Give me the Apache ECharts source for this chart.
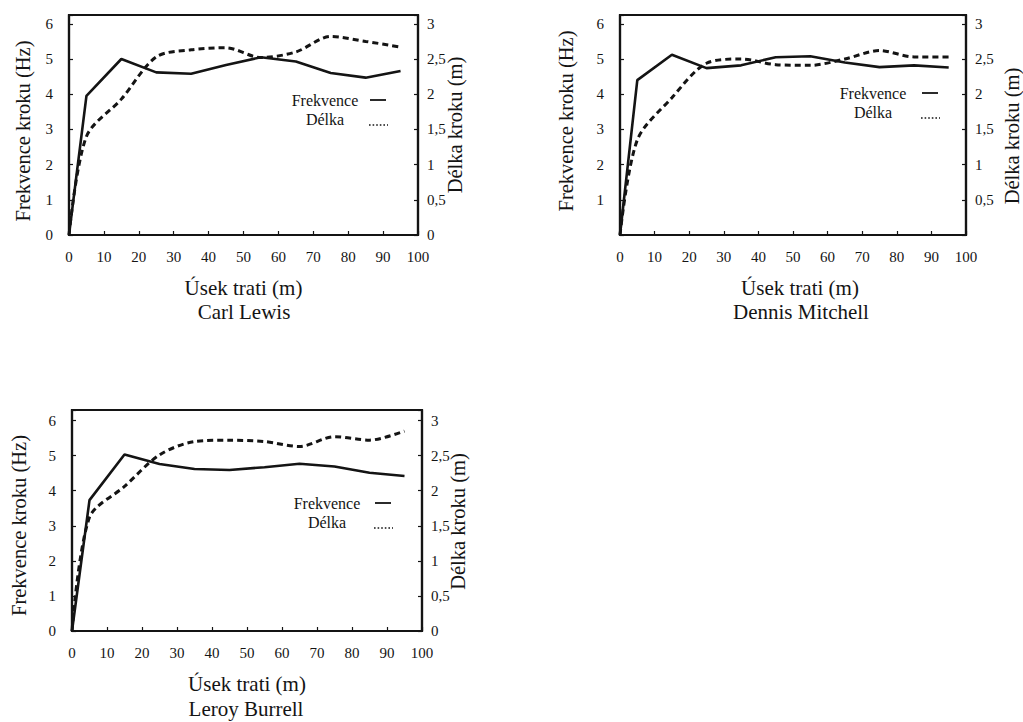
<!DOCTYPE html>
<html>
<head>
<meta charset="utf-8">
<title>Frekvence a délka kroku</title>
<script src="https://cdn.jsdelivr.net/npm/echarts@6/dist/echarts.min.js"></script>
<style>
  html, body { margin: 0; padding: 0; background: #fff; }
  #chart { width: 1023px; height: 722px; }
</style>
</head>
<body>
<div id="chart"></div>
<script>
// Distance along the track (segment midpoints, m)
const trackPos = [0, 5, 15, 25, 35, 45, 55, 65, 75, 85, 95];

// Step frequency (Hz) and step length (m) per runner
const lewisFreq     = [0, 3.95, 5.0, 4.62, 4.58, 4.83, 5.05, 4.93, 4.6, 4.47, 4.66];
const lewisLength   = [0, 1.4, 1.93, 2.53, 2.63, 2.66, 2.52, 2.6, 2.82, 2.75, 2.67];
const mitchellFreq  = [0, 4.4, 5.12, 4.74, 4.82, 5.05, 5.08, 4.9, 4.77, 4.82, 4.76];
const mitchellLength= [0, 1.35, 1.95, 2.44, 2.5, 2.42, 2.41, 2.5, 2.62, 2.53, 2.53];
const burrellFreq   = [0, 3.73, 5.03, 4.76, 4.62, 4.59, 4.67, 4.77, 4.69, 4.51, 4.42];
const burrellLength = [0, 1.62, 2.06, 2.51, 2.7, 2.72, 2.7, 2.63, 2.77, 2.72, 2.85];

const runners = ['Carl Lewis', 'Dennis Mitchell', 'Leroy Burrell'];
const xTitle = 'Úsek trati (m)';
const leftTitle = 'Frekvence kroku (Hz)';
const rightTitle = 'Délka kroku (m)';
const legendNames = ['Frekvence', 'Délka'];

const FONT = "'Liberation Serif', 'DejaVu Serif', serif";
const INK = '#141414';

const pairs = (vals) => trackPos.map((x, i) => [x, vals[i]]);

// Panel layout: plot box, y extent, label options
const panels = [
  { freq: lewisFreq, len: lewisLength, grid: { left: 69, top: 15, width: 349, height: 220 },
    yMax: 6.25, showZero: true, lName: [36, 12], rName: [26, 0], title: [244, 312],
    legend: [325, 378], legendY: 100 },
  { freq: mitchellFreq, len: mitchellLength, grid: { left: 620, top: 15, width: 346, height: 220 },
    yMax: 6.25, showZero: false, lName: [44, -8], rName: [35, 22], title: [801, 312],
    legend: [873, 930], legendY: 93 },
  { freq: burrellFreq, len: burrellLength, grid: { left: 72, top: 410, width: 350, height: 221 },
    yMax: 6.3, showZero: true, lName: [43, 10], rName: [25, 2], title: [246, 709],
    legend: [327, 383], legendY: 503 }
];

const grids = [], xAxes = [], yAxes = [], series = [], graphics = [];

panels.forEach((p, i) => {
  grids.push(Object.assign({ show: true, borderColor: INK, borderWidth: 2.2, backgroundColor: '#fff' }, p.grid));

  xAxes.push({
    gridIndex: i, type: 'value', min: 0, max: 100, interval: 10,
    axisLine: { show: true, onZero: false, lineStyle: { color: INK, width: 2.2 } },
    axisTick: { inside: true, length: 4, lineStyle: { color: INK, width: 1.2 } },
    axisLabel: { margin: 14, fontFamily: FONT, fontSize: 15, color: INK },
    splitLine: { show: false },
    name: xTitle, nameLocation: 'middle', nameGap: 42, nameMoveOverlap: false,
    nameTextStyle: { fontFamily: FONT, fontSize: 21, color: INK, padding: i === 1 ? [0, 0, 0, 14] : 0 }
  });

  yAxes.push({
    gridIndex: i, type: 'value', position: 'left', min: 0, max: p.yMax, interval: 1,
    axisLine: { show: true, lineStyle: { color: INK, width: 2.2 } },
    axisTick: { inside: true, length: 4, lineStyle: { color: INK, width: 1.2 } },
    axisLabel: {
      margin: 16, fontFamily: FONT, fontSize: 15, color: INK,
      formatter: (v) => (v > 6.01 || (!p.showZero && v === 0)) ? '' : String(v)
    },
    splitLine: { show: false },
    name: leftTitle, nameLocation: 'middle', nameRotate: 90, nameGap: p.lName[0], nameMoveOverlap: false,
    nameTextStyle: { fontFamily: FONT, fontSize: 20.5, color: INK,
      padding: p.lName[1] >= 0 ? [0, p.lName[1], 0, 0] : [0, 0, 0, -p.lName[1]] }
  });

  yAxes.push({
    gridIndex: i, type: 'value', position: 'right', min: 0, max: p.yMax / 2, interval: 0.5,
    axisLine: { show: true, lineStyle: { color: INK, width: 2.2 } },
    axisTick: { inside: true, length: 4, lineStyle: { color: INK, width: 1.2 } },
    axisLabel: {
      margin: 9, fontFamily: FONT, fontSize: 15, color: INK,
      formatter: (v) => (v > 3.01 || (!p.showZero && v === 0)) ? '' : String(v).replace('.', ',')
    },
    splitLine: { show: false },
    name: rightTitle, nameLocation: 'middle', nameRotate: 90, nameGap: p.rName[0], nameMoveOverlap: false,
    nameTextStyle: { fontFamily: FONT, fontSize: 20.5, color: INK,
      padding: p.rName[1] >= 0 ? [0, p.rName[1], 0, 0] : [0, 0, 0, -p.rName[1]] }
  });

  series.push({
    name: legendNames[0], type: 'line', xAxisIndex: i, yAxisIndex: 2 * i,
    data: pairs(p.freq), symbol: 'none', smooth: false, z: 3,
    lineStyle: { color: INK, width: 2.6 }
  });
  series.push({
    name: legendNames[1], type: 'line', xAxisIndex: i, yAxisIndex: 2 * i + 1,
    data: pairs(p.len), symbol: 'none', smooth: 0.3, z: 2,
    lineStyle: { color: INK, width: 3, type: [6, 4] }
  });

  // Runner name under the axis title
  graphics.push({
    type: 'text', x: p.title[0], y: p.title[1], z: 10,
    style: { text: runners[i], font: '21px ' + FONT, fill: INK, align: 'center', verticalAlign: 'middle' }
  });

  // Key: labels with line samples on the right
  const ly = p.legendY;
  graphics.push({
    type: 'text', x: p.legend[0], y: ly, z: 10,
    style: { text: legendNames[0], font: '16px ' + FONT, fill: INK, align: 'center', verticalAlign: 'middle' }
  });
  graphics.push({
    type: 'text', x: p.legend[0], y: ly + 19, z: 10,
    style: { text: legendNames[1], font: '16px ' + FONT, fill: INK, align: 'center', verticalAlign: 'middle' }
  });
  graphics.push({
    type: 'line', z: 10,
    shape: { x1: p.legend[1] - 8, y1: ly, x2: p.legend[1] + 8, y2: ly },
    style: { stroke: INK, lineWidth: 1.8 }
  });
  graphics.push({
    type: 'line', z: 10,
    shape: { x1: p.legend[1] - 9, y1: ly + 25, x2: p.legend[1] + 10, y2: ly + 25 },
    style: { stroke: INK, lineWidth: 1.6, lineDash: [1.6, 2] }
  });
});

const chart = echarts.init(document.getElementById('chart'), null, { renderer: 'svg' });
chart.setOption({
  animation: false,
  backgroundColor: '#fff',
  grid: grids,
  xAxis: xAxes,
  yAxis: yAxes,
  series: series,
  graphic: graphics
});
</script>
</body>
</html>
